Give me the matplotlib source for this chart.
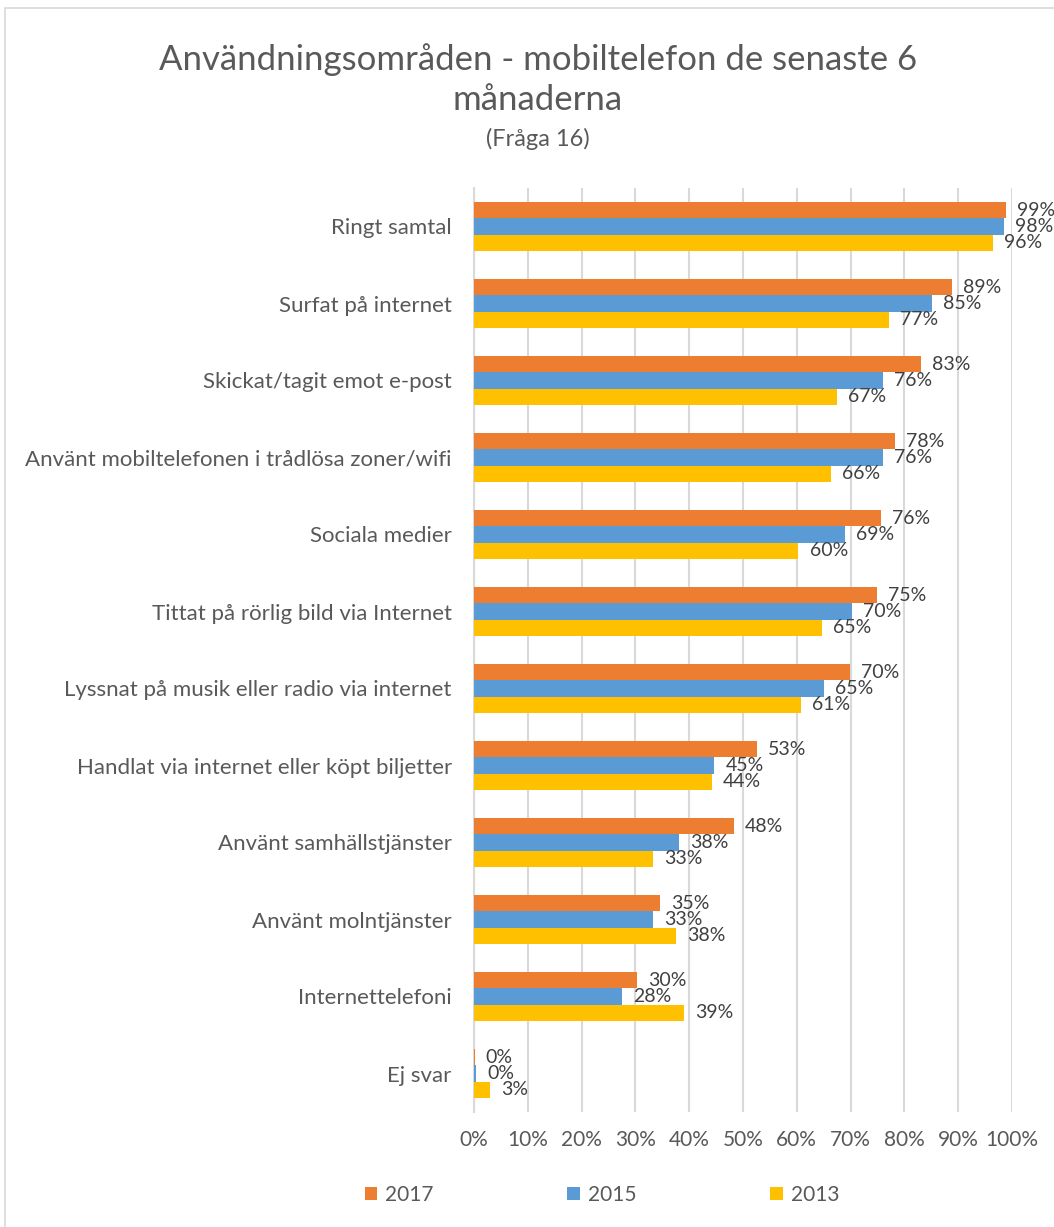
import numpy as np
import matplotlib.pyplot as plt
from matplotlib.patches import Rectangle

plt.rcParams['font.family'] = ['Lato', 'DejaVu Sans']

categories = ['Ringt samtal', 'Surfat på internet', 'Skickat/tagit emot e-post',
              'Använt mobiltelefonen i trådlösa zoner/wifi', 'Sociala medier',
              'Tittat på rörlig bild via Internet', 'Lyssnat på musik eller radio via internet',
              'Handlat via internet eller köpt biljetter', 'Använt samhällstjänster',
              'Använt molntjänster', 'Internettelefoni', 'Ej svar']
v2017 = [98.9, 88.8, 83.1, 78.3, 75.6, 74.9, 69.8, 52.6, 48.3, 34.6, 30.3, 0.1]
v2015 = [98.5, 85.2, 76.0, 76.0, 68.9, 70.2, 65.0, 44.7, 38.1, 33.3, 27.5, 0.35]
v2013 = [96.5, 77.2, 67.4, 66.3, 60.3, 64.7, 60.8, 44.2, 33.3, 37.6, 39.0, 3.0]
series = [('2017', v2017, '#ED7D31'), ('2015', v2015, '#5B9BD5'), ('2013', v2013, '#FFC000')]

fig = plt.figure(figsize=(10.54, 12.27), dpi=100)
ax = fig.add_axes([474/1054, 1-1112/1227, 538/1054, 924/1227])

# outer chart border
fig.patches.append(Rectangle((5/1054, -0.01), 1.0, 1-8/1227+0.01, transform=fig.transFigure,
                             fill=False, edgecolor='#d9d9d9', lw=1.2))

y = np.arange(len(categories))
h = 0.208
for i, (name, vals, col) in enumerate(series):
    pos = y + (i - 1) * h
    ax.barh(pos, vals, height=h, color=col, label=name, zorder=3)
    for p, v in zip(pos, vals):
        ax.annotate(f'{round(v):.0f}%', (v, p), xytext=(8, 0), textcoords='offset points',
                    va='center', ha='left', fontsize=14, color='#404040', annotation_clip=False)

ax.set_ylim(len(categories) - 0.5, -0.5)
ax.set_xlim(0, 100)
ax.set_xticks(np.arange(0, 101, 10))
ax.set_xticklabels([f'{t}%' for t in range(0, 101, 10)])
ax.set_yticks(y)
ax.set_yticklabels(categories)
ax.tick_params(axis='both', length=0, labelsize=15, colors='#595959')
ax.tick_params(axis='y', labelsize=16, pad=16)
ax.tick_params(axis='x', pad=13)
ax.grid(axis='x', color='#d9d9d9', lw=1.5, zorder=0)
for s in ['top', 'right', 'bottom']:
    ax.spines[s].set_visible(False)
ax.spines['left'].set_color('#d9d9d9')
ax.spines['left'].set_linewidth(1.5)

fig.text(538/1054, 1-60/1227, 'Användningsområden - mobiltelefon de senaste 6', ha='center', va='center',
         fontsize=25, color='#595959')
fig.text(538/1054, 1-100/1227, 'månaderna', ha='center', va='center', fontsize=25, color='#595959')
fig.text(538/1054, 1-139/1227, '(Fråga 16)', ha='center', va='center', fontsize=17, color='#595959')

leg = fig.legend(loc='center', bbox_to_anchor=(602/1054, 1-1195/1227), ncol=3, frameon=False,
                 fontsize=15, handlelength=0.6, handleheight=0.6, handletextpad=0.4, columnspacing=6.4)
for t in leg.get_texts():
    t.set_color('#595959')

fig.savefig('out.png', dpi=100)
